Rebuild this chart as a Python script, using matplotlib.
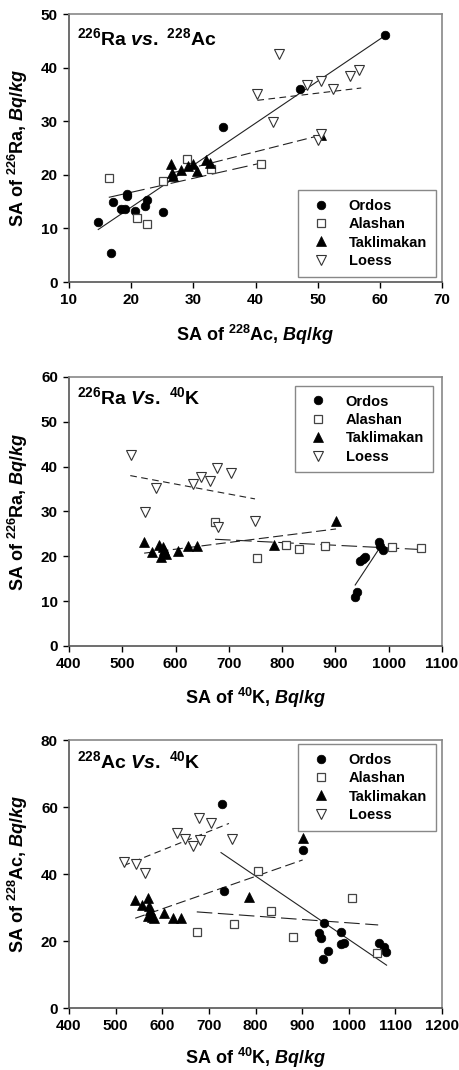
import matplotlib as mpl
mpl.use('Agg')
from matplotlib import pyplot as plt

plt.rcParams['font.family'] = 'Liberation Sans'
plt.rcParams['font.weight'] = 'bold'
plt.rcParams['axes.labelweight'] = 'bold'
plt.rcParams['mathtext.fontset'] = 'custom'
plt.rcParams['mathtext.rm'] = 'Liberation Sans:bold'
plt.rcParams['mathtext.bf'] = 'Liberation Sans:bold'
plt.rcParams['mathtext.it'] = 'Liberation Sans:italic:bold'
plt.rcParams['mathtext.default'] = 'bf'

groups = ['Ordos', 'Alashan', 'Taklimakan', 'Loess']

# panel 1: 228Ac (x) vs 226Ra (y)
ordos_ac_1 = [14.7, 16.8, 17.0, 18.3, 19.0, 19.3, 19.4, 20.6, 22.2, 22.6, 25.1, 34.8, 47.2, 60.9]
ordos_ra_1 = [11.2, 5.4, 15.0, 13.7, 13.6, 16.5, 16.1, 13.3, 14.2, 15.3, 13.1, 28.9, 36.1, 46.1]
alashan_ac_1 = [16.4, 21.0, 22.5, 25.1, 28.9, 32.8, 40.9]
alashan_ra_1 = [19.5, 11.9, 10.8, 18.9, 23.0, 21.0, 22.0]
takla_ac_1 = [26.4, 26.6, 26.8, 28.0, 29.2, 30.0, 30.6, 32.0, 32.6, 50.5]
takla_ra_1 = [22.0, 20.4, 19.7, 20.9, 21.7, 22.0, 20.8, 22.8, 22.3, 27.4]
loess_ac_1 = [40.2, 42.8, 43.8, 48.3, 50.0, 50.6, 50.6, 52.4, 55.2, 56.7]
loess_ra_1 = [35.0, 29.8, 42.5, 36.8, 26.5, 27.7, 37.5, 36.1, 38.5, 39.5]
fit_x_1 = [[14.7, 61.0], [16.4, 40.9], [26.4, 50.5], [40.3, 57.0]]
fit_y_1 = [[9.8, 46.1], [15.8, 22.2], [20.3, 27.4], [33.9, 36.2]]

# panel 2: 40K (x) vs 226Ra (y)
ordos_k_2 = [936, 941, 946, 952, 956, 982, 984, 990]
ordos_ra_2 = [10.9, 12.0, 19.0, 19.5, 19.8, 23.1, 22.3, 21.3]
alashan_k_2 = [674, 753, 807, 832, 881, 1007, 1060]
alashan_ra_2 = [27.6, 19.6, 22.5, 21.6, 22.3, 22.0, 21.9]
takla_k_2 = [541, 556, 569, 572, 576, 579, 582, 604, 623, 640, 784, 901]
takla_ra_2 = [23.1, 20.9, 22.6, 19.9, 22.0, 21.3, 20.5, 21.2, 22.2, 22.2, 22.5, 27.9]
loess_k_2 = [516, 543, 563, 632, 647, 665, 678, 680, 704, 749]
loess_ra_2 = [42.5, 29.9, 35.2, 36.1, 37.6, 36.9, 39.7, 26.6, 38.6, 27.9]
fit_x_2 = [[937, 982], [674, 1062], [541, 901], [515, 749]]
fit_y_2 = [[13.6, 21.7], [23.8, 21.5], [20.7, 26.1], [38.0, 32.8]]

# panel 3: 40K (x) vs 228Ac (y)
ordos_k_3 = [728, 733, 901, 936, 940, 945, 946, 955, 983, 983, 990, 1064, 1075, 1080]
ordos_ac_3 = [61.0, 35.0, 47.2, 22.5, 20.8, 14.6, 25.3, 17.1, 22.6, 19.0, 19.5, 19.5, 18.3, 16.8]
alashan_k_3 = [674, 754, 806, 833, 881, 1007, 1061]
alashan_ac_3 = [22.6, 25.1, 40.9, 28.9, 21.1, 32.9, 16.5]
takla_k_3 = [542, 556, 569, 572, 574, 570, 579, 583, 604, 622, 640, 785, 901]
takla_ac_3 = [32.2, 30.9, 32.7, 30.4, 29.4, 27.5, 27.3, 27.0, 28.4, 26.8, 26.8, 33.0, 50.8]
loess_k_3 = [517, 544, 563, 632, 649, 665, 679, 680, 704, 749]
loess_ac_3 = [43.7, 42.9, 40.2, 52.3, 50.6, 48.4, 56.6, 50.1, 55.1, 50.4]
fit_x_3 = [[726, 1081], [674, 1063], [542, 901], [517, 743]]
fit_y_3 = [[46.4, 12.8], [28.7, 24.8], [26.8, 44.2], [42.5, 55.1]]

markers = [dict(marker='o', ms=6.2, mfc='black', mec='black', mew=0.5),
           dict(marker='s', ms=5.6, mfc='white', mec='#444444', mew=0.9),
           dict(marker='^', ms=6.6, mfc='black', mec='black', mew=0.5),
           dict(marker='v', ms=6.8, mfc='white', mec='#333333', mew=0.8)]
fit_styles = [dict(ls='-'), dict(dashes=(14, 5)), dict(dashes=(9, 4)), dict(dashes=(6, 4))]

fig = plt.figure(figsize=(4.6, 10.7), dpi=100)


def panel(rect, data, fits_x, fits_y, xlim, xticks, ylim, yticks, title, ty, xlabel, ylabel,
          leg_loc, leg_anchor, xpad):
    ax = fig.add_axes(rect)
    for (x, y), m, g in zip(data, markers, groups):
        ax.plot(x, y, ls='none', label=g, zorder=3, **m)
    for fx, fy, st in zip(fits_x, fits_y, fit_styles):
        ax.plot(fx, fy, color='#222222', lw=0.8, zorder=2, **st)
    ax.set_xlim(xlim)
    ax.set_ylim(ylim)
    ax.set_xticks(xticks)
    ax.set_yticks(yticks)
    ax.tick_params(direction='out', length=4, width=1, labelsize=11, top=False, right=False, pad=4)
    for lab in ax.get_xticklabels() + ax.get_yticklabels():
        lab.set_fontweight('bold')
    for s in ['top', 'right']:
        ax.spines[s].set_color('#888888')
    for s in ['left', 'bottom']:
        ax.spines[s].set_color('#555555')
    for s in ax.spines.values():
        s.set_linewidth(1.2)
    ax.set_xlabel(xlabel, fontsize=13, fontweight='bold', labelpad=xpad)
    ax.set_ylabel(ylabel, fontsize=13, fontweight='bold', labelpad=8)
    ax.text(0.022, ty, title, transform=ax.transAxes, fontsize=14, fontweight='bold', va='baseline', ha='left')
    leg = ax.legend(loc=leg_loc, bbox_to_anchor=leg_anchor, fontsize=10.5, frameon=True, fancybox=False,
                    edgecolor='#888888', framealpha=1, labelspacing=0.3, handletextpad=0.9,
                    borderpad=0.6, handlelength=2.0, borderaxespad=0)
    leg.get_frame().set_linewidth(1.0)
    return ax


unit = r'$\mathit{Bq}$/$\mathit{kg}$'

panel([0.15, 0.7364, 0.811, 0.2505],
      [(ordos_ac_1, ordos_ra_1), (alashan_ac_1, alashan_ra_1), (takla_ac_1, takla_ra_1), (loess_ac_1, loess_ra_1)],
      fit_x_1, fit_y_1, (10, 70), range(10, 71, 10), (0, 50), range(0, 51, 10),
      r'$^{226}$Ra $\mathit{vs.}$ $^{228}$Ac', 0.884,
      r'SA of $^{228}$Ac, ' + unit, r'SA of $^{226}$Ra, ' + unit,
      'lower right', (0.983, 0.02), 11)

panel([0.15, 0.3963, 0.811, 0.2514],
      [(ordos_k_2, ordos_ra_2), (alashan_k_2, alashan_ra_2), (takla_k_2, takla_ra_2), (loess_k_2, loess_ra_2)],
      fit_x_2, fit_y_2, (400, 1100), range(400, 1101, 100), (0, 60), range(0, 61, 10),
      r'$^{226}$Ra $\mathit{Vs.}$ $^{40}$K', 0.90,
      r'SA of $^{40}$K, ' + unit, r'SA of $^{226}$Ra, ' + unit,
      'upper right', (0.975, 0.967), 11)

panel([0.15, 0.0579, 0.811, 0.2505],
      [(ordos_k_3, ordos_ac_3), (alashan_k_3, alashan_ac_3), (takla_k_3, takla_ac_3), (loess_k_3, loess_ac_3)],
      fit_x_3, fit_y_3, (400, 1200), range(400, 1201, 100), (0, 80), range(0, 81, 20),
      r'$^{228}$Ac $\mathit{Vs.}$ $^{40}$K', 0.894,
      r'SA of $^{40}$K, ' + unit, r'SA of $^{228}$Ac, ' + unit,
      'upper right', (0.983, 0.985), 9)

fig.savefig('out.png', dpi=100)
